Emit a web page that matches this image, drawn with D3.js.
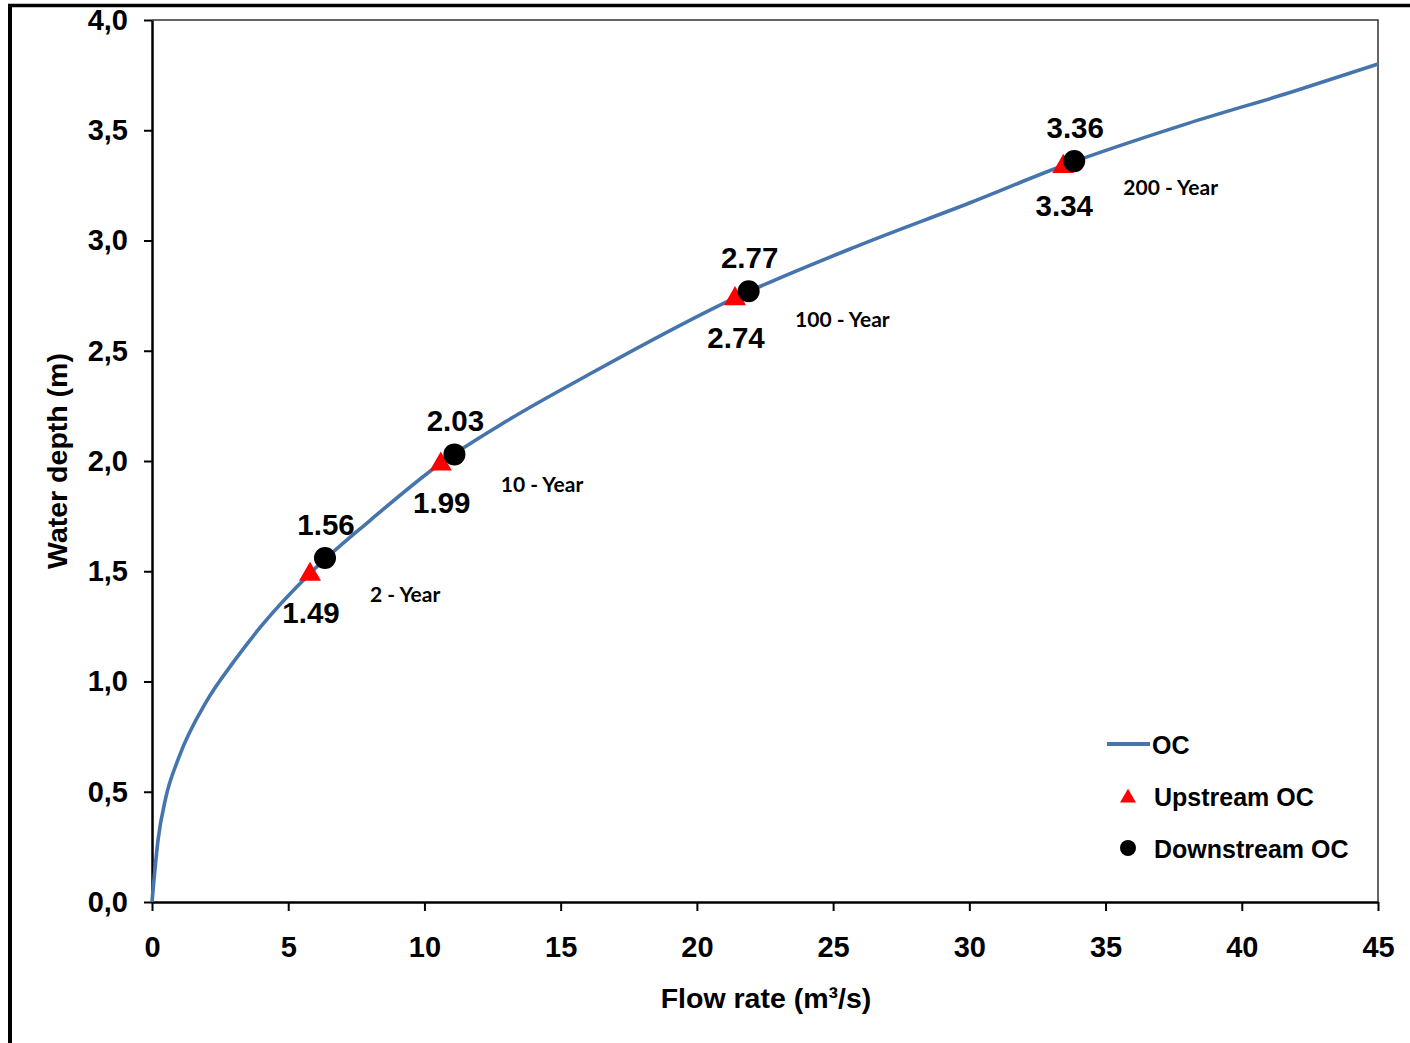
<!DOCTYPE html>
<html>
<head>
<meta charset="utf-8">
<script src="https://cdn.jsdelivr.net/npm/d3@7"></script>
<style>
  html, body { margin: 0; padding: 0; background: #fff; }
  svg { display: block; }
  text { font-family: "Liberation Sans", Arial, sans-serif; font-weight: bold; fill: #000; }
</style>
</head>
<body>
<svg id="chart" width="1410" height="1043"></svg>
<script>
// Rating curve of the open channel (flow rate in m³/s, water depth in m)
const curveFlow  = [0, 0.22, 0.5, 1, 2, 3, 4, 5.8, 8, 10.6, 13, 16, 21.4, 26, 30, 33.45, 38, 42, 45];
const curveDepth = [0, 0.28, 0.47, 0.66, 0.91, 1.09, 1.25, 1.49, 1.73, 1.99, 2.18, 2.39, 2.74, 2.98, 3.17, 3.34, 3.53, 3.68, 3.80];

// Design floods
const returnPeriods   = ["2 - Year", "10 - Year", "100 - Year", "200 - Year"];
const upstreamFlow    = [5.8, 10.6, 21.4, 33.45];
const upstreamDepth   = [1.49, 1.99, 2.74, 3.34];
const downstreamFlow  = [6.35, 11.1, 21.9, 33.85];
const downstreamDepth = [1.56, 2.03, 2.77, 3.36];

const xTicks = [0, 5, 10, 15, 20, 25, 30, 35, 40, 45];
const yTicks = [0, 0.5, 1, 1.5, 2, 2.5, 3, 3.5, 4];
const legendLabels = ["OC", "Upstream OC", "Downstream OC"];

const BLUE = "#4674ad";
const RED = "#ff0000";

const svg = d3.select("#chart");
const plot = { left: 152, right: 1378, top: 20, bottom: 902 };

const x = d3.scaleLinear().domain([0, 45]).range([plot.left, plot.right]);
const y = d3.scaleLinear().domain([0, 4]).range([plot.bottom, plot.top]);

// outer frame (top and left edges)
svg.append("line").attr("x1", 8).attr("x2", 1410).attr("y1", 5.5).attr("y2", 5.5)
  .attr("stroke", "#000").attr("stroke-width", 3.5);
svg.append("line").attr("x1", 10).attr("x2", 10).attr("y1", 4).attr("y2", 1043)
  .attr("stroke", "#000").attr("stroke-width", 4);

// plot area border (top and right)
svg.append("path")
  .attr("d", `M${plot.left},${plot.top}H${plot.right}V${plot.bottom}`)
  .attr("fill", "none").attr("stroke", "#333").attr("stroke-width", 1.5);

// axes
const fmtY = d => d3.format(".1f")(d).replace(".", ",");
const yAxis = svg.append("g").attr("transform", `translate(${plot.left},0)`)
  .call(d3.axisLeft(y).tickValues(yTicks).tickFormat(fmtY).tickSize(8).tickSizeOuter(0).tickPadding(16));
const xAxis = svg.append("g").attr("transform", `translate(0,${plot.bottom})`)
  .call(d3.axisBottom(x).tickValues(xTicks).tickFormat(d3.format("d")).tickSize(9).tickSizeOuter(0).tickPadding(25));

[yAxis, xAxis].forEach(g => {
  g.select(".domain").attr("stroke", "#000").attr("stroke-width", 2.5);
  g.selectAll(".tick line").attr("stroke", "#000").attr("stroke-width", 2);
  g.selectAll(".tick text")
    .style("font-family", '"Liberation Sans", Arial, sans-serif')
    .style("font-weight", "bold").style("font-size", "29px").attr("fill", "#000");
});

// axis titles
svg.append("text")
  .attr("transform", `translate(67,${(plot.top + plot.bottom) / 2}) rotate(-90)`)
  .attr("text-anchor", "middle").style("font-size", "28.5px")
  .text("Water depth (m)");
svg.append("text")
  .attr("x", 766).attr("y", 1008)
  .attr("text-anchor", "middle").style("font-size", "28.5px")
  .text("Flow rate (m³/s)");

// rating curve
const curvePts = curveFlow.map((q, i) => [q, curveDepth[i]]);
svg.append("path")
  .datum(curvePts)
  .attr("fill", "none").attr("stroke", BLUE).attr("stroke-width", 3.6)
  .attr("stroke-linejoin", "round")
  .attr("d", d3.line().x(d => x(d[0])).y(d => y(d[1])).curve(d3.curveMonotoneX));

// upstream markers (triangles)
const triBig = d3.symbol().type(d3.symbolTriangle).size(210);
svg.append("g").selectAll("path")
  .data(upstreamFlow.map((q, i) => ({ q, d: upstreamDepth[i] })))
  .join("path")
  .attr("d", triBig)
  .attr("transform", d => `translate(${x(d.q)},${y(d.d) + 1})`)
  .attr("fill", RED);

// downstream markers (circles)
svg.append("g").selectAll("circle")
  .data(downstreamFlow.map((q, i) => ({ q, d: downstreamDepth[i] })))
  .join("circle")
  .attr("cx", d => x(d.q)).attr("cy", d => y(d.d)).attr("r", 11)
  .attr("fill", "#000");

// value labels
const valueFont = "29.5px";
svg.append("g").selectAll("text")
  .data(downstreamFlow.map((q, i) => ({ q, d: downstreamDepth[i] })))
  .join("text")
  .attr("x", d => x(d.q) + 1).attr("y", d => y(d.d) - 23)
  .attr("text-anchor", "middle").style("font-size", valueFont)
  .text(d => d.d.toFixed(2));
svg.append("g").selectAll("text")
  .data(upstreamFlow.map((q, i) => ({ q, d: upstreamDepth[i] })))
  .join("text")
  .attr("x", d => x(d.q) + 1).attr("y", d => y(d.d) + 50)
  .attr("text-anchor", "middle").style("font-size", valueFont)
  .text(d => d.d.toFixed(2));

// return-period labels
svg.append("g").selectAll("text")
  .data(returnPeriods.map((t, i) => ({ t, q: upstreamFlow[i], d: upstreamDepth[i] })))
  .join("text")
  .attr("x", d => x(d.q) + 60).attr("y", d => y(d.d) + 29)
  .style("font-family", 'Lato, "Open Sans", sans-serif')
  .style("font-size", "21px")
  .text(d => d.t);

// legend
const lg = svg.append("g");
lg.append("line").attr("x1", 1107).attr("x2", 1150).attr("y1", 744).attr("y2", 744)
  .attr("stroke", BLUE).attr("stroke-width", 4);
lg.append("path").attr("d", d3.symbol().type(d3.symbolTriangle).size(110))
  .attr("transform", "translate(1128,798)").attr("fill", RED);
lg.append("circle").attr("cx", 1128).attr("cy", 848).attr("r", 8).attr("fill", "#000");
const legendX = [1152, 1154, 1154];
const legendY = [754, 806, 858];
lg.selectAll("text").data(legendLabels).join("text")
  .attr("x", (d, i) => legendX[i]).attr("y", (d, i) => legendY[i])
  .style("font-size", "25px")
  .text(d => d);
</script>
</body>
</html>
